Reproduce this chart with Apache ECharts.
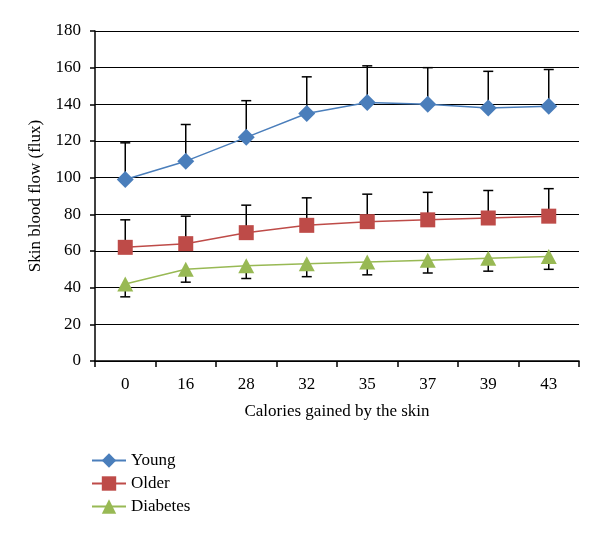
<!DOCTYPE html>
<html><head><meta charset="utf-8">
<script src="https://cdn.jsdelivr.net/npm/echarts@6/dist/echarts.min.js"></script>
<style>html,body{margin:0;padding:0;background:#fff}#c{width:600px;height:538px}</style>
</head><body><div id="c"></div>
<script>
const categories = ['0','16','28','32','35','37','39','43'];
const young = [99,109,122,135,141,140,138,139];
const youngErr = [20,20,20,20,20,20,20,20];
const older = [62,64,70,74,76,77,78,79];
const olderErr = [15,15,15,15,15,15,15,15];
const diabetes = [42,50,52,53,54,55,56,57];
const diabetesErr = [7,7,7,7,7,7,7,7];
const yTicks = {min:0, max:180, interval:20};

const FONT = '"Liberation Serif", "DejaVu Serif", serif';

function errData(vals, errs, dir){
  return vals.map((v,i)=>[i, v, v + dir*errs[i]]);
}
function errRender(params, api){
  const p0 = api.coord([api.value(0), api.value(1)]);
  const p1 = api.coord([api.value(0), api.value(2)]);
  const half = 5;
  return {type:'group', children:[
    {type:'line', shape:{x1:p0[0],y1:p0[1],x2:p1[0],y2:p1[1]}, style:{stroke:'#000',lineWidth:1.5}},
    {type:'line', shape:{x1:p1[0]-half,y1:p1[1],x2:p1[0]+half,y2:p1[1]}, style:{stroke:'#000',lineWidth:1.5}}
  ]};
}

const chart = echarts.init(document.getElementById('c'), null, {renderer:'canvas'});
chart.setOption({
  animation:false,
  backgroundColor:'#fff',
  textStyle:{fontFamily:FONT},
  grid:{left:95,right:21,top:31,bottom:177},
  legend:{
    orient:'vertical', left:86, top:447, itemGap:6, itemWidth:34, itemHeight:18,
    textStyle:{fontFamily:FONT,fontSize:17,color:'#000'},
    data:['Young','Older','Diabetes']
  },
  xAxis:{
    type:'category', data:categories, boundaryGap:true,
    name:'Calories gained by the skin', nameLocation:'middle', nameGap:42,
    nameTextStyle:{fontFamily:FONT,fontSize:17,color:'#000'},
    axisLine:{lineStyle:{color:'#000',width:1.5}},
    axisTick:{show:true,length:6,lineStyle:{color:'#000',width:1.5}},
    axisLabel:{fontFamily:FONT,fontSize:17,color:'#000',margin:15}
  },
  yAxis:{
    type:'value', min:yTicks.min, max:yTicks.max, interval:yTicks.interval,
    name:'Skin blood flow (flux)', nameLocation:'middle', nameGap:51, nameRotate:90,
    nameTextStyle:{fontFamily:FONT,fontSize:17,color:'#000'},
    axisLine:{show:true,lineStyle:{color:'#000',width:1.5}},
    axisTick:{show:true,length:5,lineStyle:{color:'#000',width:1.5}},
    axisLabel:{fontFamily:FONT,fontSize:17,color:'#000',margin:14},
    splitLine:{show:true,lineStyle:{color:'#000',width:1.2}}
  },
  series:[
    {type:'custom', name:'youngErr', renderItem:errRender, data:errData(young,youngErr,1), z:1, encode:{x:0,y:[1,2]}, silent:true},
    {type:'custom', name:'olderErr', renderItem:errRender, data:errData(older,olderErr,1), z:1, encode:{x:0,y:[1,2]}, silent:true},
    {type:'custom', name:'diabetesErr', renderItem:errRender, data:errData(diabetes,diabetesErr,-1), z:1, encode:{x:0,y:[1,2]}, silent:true},
    {type:'line', name:'Young', data:young, symbol:'diamond', symbolSize:17, showAllSymbol:true,
      itemStyle:{color:'#4a7ebb'}, lineStyle:{color:'#4a7ebb',width:1.5}, z:3},
    {type:'line', name:'Older', data:older, symbol:'rect', symbolSize:15, showAllSymbol:true,
      itemStyle:{color:'#be4b48'}, lineStyle:{color:'#be4b48',width:1.5}, z:3},
    {type:'line', name:'Diabetes', data:diabetes, symbol:'triangle', symbolSize:[16,15], showAllSymbol:true,
      itemStyle:{color:'#98b954'}, lineStyle:{color:'#98b954',width:1.5}, z:3}
  ]
});
</script></body></html>
